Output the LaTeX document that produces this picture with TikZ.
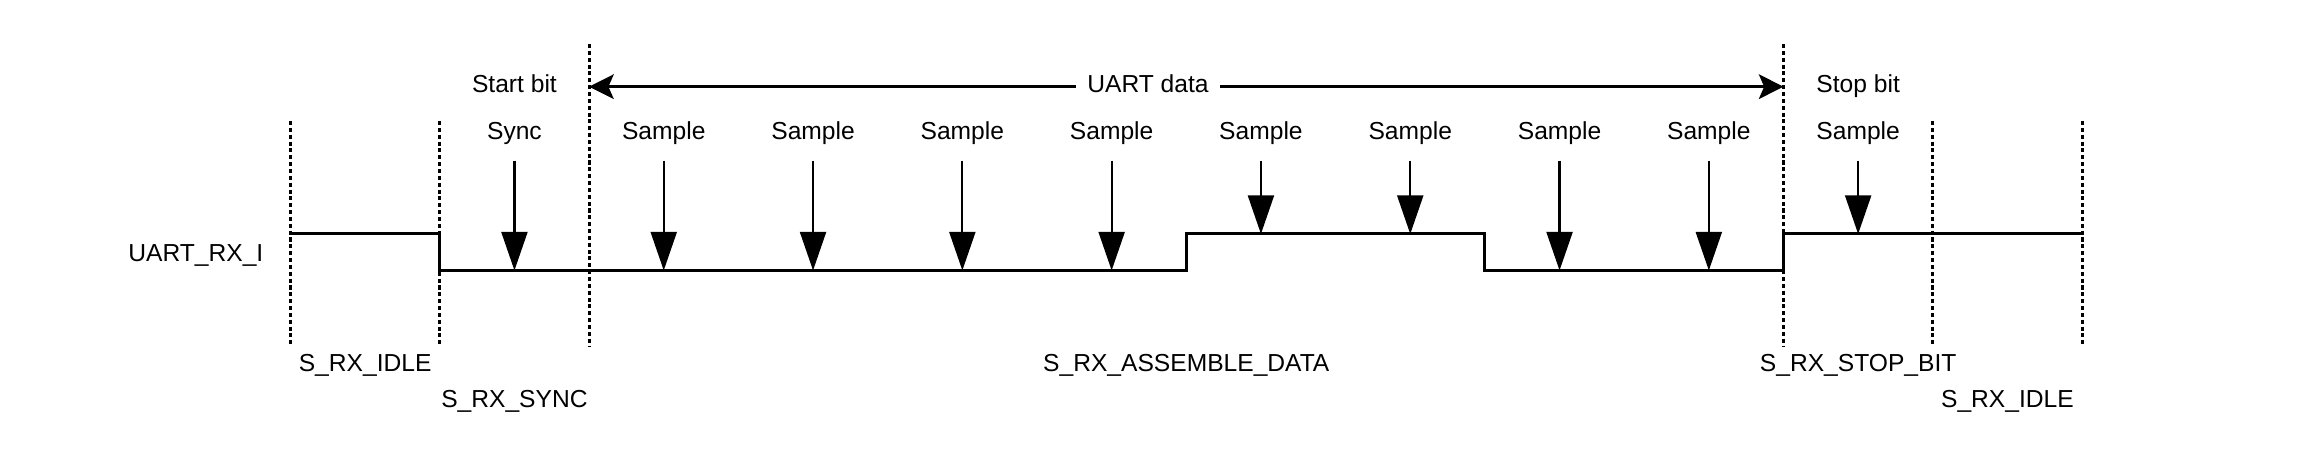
\documentclass[tikz,border=0pt]{standalone}
\usepackage{fontspec}
\setmainfont{Liberation Sans}
\usepackage{tikz}
\usetikzlibrary{arrows.meta,positioning,calc}
\newcommand{\bitw}{1.493}
\newcommand{\hilev}{0.365}

\begin{document}
\begin{tikzpicture}[
  lbl/.style={inner sep=0pt, font=\fontsize{7pt}{8.4pt}\selectfont},
  signal/.style={line width=0.85pt, line join=miter},
  bound/.style={line width=0.8pt, dash pattern=on 1.15pt off 0.8pt},
  sarrow/.style={-{Triangle[length=11pt,width=7.4pt]}, line width=0.65pt, shorten <=4.2pt},
  darrow/.style={-{Stealth[length=7pt,width=7pt,inset=1.5pt]}, line width=0.8pt}
]
\useasboundingbox (-2.905,-1.955) rectangle (20.235,2.705);

% State boundaries
\foreach \b in {0,1,11,12}
  \draw[bound] ({\b*\bitw},1.495) -- ({\b*\bitw},-0.755);
\foreach \b in {2,10}
  \draw[bound] ({\b*\bitw},2.265) -- ({\b*\bitw},-0.755);

% Signal
\node[lbl, anchor=base east] (rxi) at (-0.265,0.085) {UART\_RX\_I};
\draw[signal] (0,\hilev) -- ({\bitw},\hilev) -- ({\bitw},0) -- ({6*\bitw},0)
  -- ({6*\bitw},\hilev) -- ({8*\bitw},\hilev) -- ({8*\bitw},0) -- ({10*\bitw},0)
  -- ({10*\bitw},\hilev) -- ({12*\bitw},\hilev);

% Top labels
\node[lbl, anchor=base] (start) at ({1.5*\bitw},1.775) {Start bit};
\node[lbl, anchor=base] (stop) at ({10.5*\bitw},1.775) {Stop bit};
\node[lbl, anchor=base, inner xsep=0.11cm] (udata) at (8.575,1.775) {UART data};
\coordinate (ldata) at ({2*\bitw},1.838);
\coordinate (rdata) at ({10*\bitw},1.838);
\draw[darrow] (udata.west |- ldata) -- (ldata);
\draw[darrow] (udata.east |- rdata) -- (rdata);

% Sync and sample points
\node[lbl, anchor=base] (sync) at ({1.5*\bitw},1.305) {Sync};
\coordinate (synctip) at ({1.5*\bitw},0);
\draw[sarrow] (sync) -- (synctip);
\foreach \b/\lv [count=\k] in {2/0,3/0,4/0,5/0,6/1,7/1,8/0,9/0,10/1} {
  \node[lbl, anchor=base] (smp\k) at ({(\b+0.5)*\bitw},1.305) {Sample};
  \coordinate (tip\k) at ({(\b+0.5)*\bitw},{\lv*\hilev});
  \draw[sarrow] (smp\k) -- (tip\k);
}

% State names
\node[lbl, anchor=base] (idle1) at ({0.5*\bitw},-1.015) {S\_RX\_IDLE};
\node[lbl, anchor=base] (syncst) at ({1.5*\bitw},-1.375) {S\_RX\_SYNC};
\node[lbl, anchor=base] (assem) at ({6*\bitw},-1.015) {S\_RX\_ASSEMBLE\_DATA};
\node[lbl, anchor=base] (stopst) at ({10.5*\bitw},-1.015) {S\_RX\_STOP\_BIT};
\node[lbl, anchor=base] (idle2) at ({11.5*\bitw},-1.375) {S\_RX\_IDLE};

\end{tikzpicture}
\end{document}
